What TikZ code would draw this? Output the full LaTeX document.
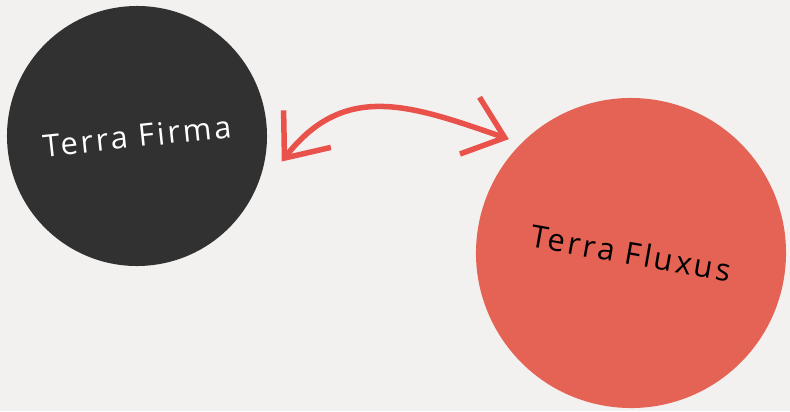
\documentclass[tikz,border=0pt]{standalone}
\usepackage{fontspec}
\usepackage{tikz}
\usetikzlibrary{arrows.meta}
\newfontfamily\mano{Open Sans}[LetterSpace=9]
\definecolor{TFPaper}{HTML}{F2F1EF}
\definecolor{TFDark}{HTML}{313131}
\definecolor{TFRed}{HTML}{E46354}
\definecolor{TFArrow}{HTML}{E8524B}

\begin{document}
\begin{tikzpicture}[
      x=1bp, y=1bp,
      circulo/.style={circle, inner sep=0pt, font=\mano\fontsize{31}{31}\selectfont},
      oscuro/.style={circulo, fill=TFDark, text=white, minimum size=260bp, outer sep=17bp},
      rojo/.style={circulo, fill=TFRed, text=black, minimum size=310bp, outer sep=12bp},
      flecha/.style={{Straight Barb[length=37bp,width=60bp]}-{Straight Barb[length=37bp,width=60bp]},
        draw=TFArrow, line width=5.5bp, line cap=round, line join=round},
    ]

    \fill[TFPaper] (0,0) rectangle (790,411);
    \useasboundingbox (0,0) rectangle (790,411);

    \node[oscuro, rotate=6]  (firma)  at (137,275) {Terra Firma};
    \node[rojo,   rotate=-10] (fluxus) at (631,158) {Terra Fluxus};

    \draw[flecha] (firma.-16) to[out=52, in=161, looseness=1.15] (fluxus.147);

  \end{tikzpicture}
\end{document}
